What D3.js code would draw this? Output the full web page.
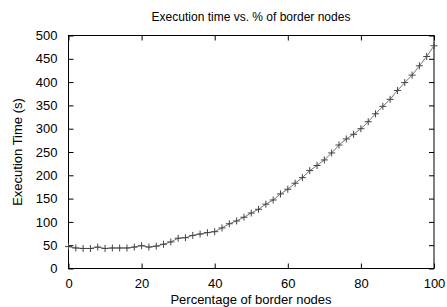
<!DOCTYPE html>
<html>
<head>
<meta charset="utf-8">
<script src="https://cdn.jsdelivr.net/npm/d3@7"></script>
<style>
  body { margin: 0; background: #fff; }
  text { font-family: "Liberation Sans", Arial, sans-serif; fill: #000; }
</style>
</head>
<body>
<svg id="chart" width="447" height="307"></svg>
<script>
// percentage of border nodes (every 2%)
const percents = d3.range(0, 101, 2);
// execution time in seconds
const execTimes = [47, 44, 43, 43, 46, 43, 44, 44, 44, 46,
  49, 46, 48, 52, 57, 65, 66, 71, 74, 77,
  79, 87, 96, 102, 110, 119, 127, 138, 147, 160,
  170, 183, 195, 210, 221, 233, 248, 265, 278, 288,
  300, 315, 332, 348, 363, 382, 399, 415, 435, 455, 478];
const xTicks = [0, 20, 40, 60, 80, 100];
const yTicks = [0, 50, 100, 150, 200, 250, 300, 350, 400, 450, 500];

const data = percents.map((p, i) => ({ p: p, t: execTimes[i] }));

const margin = { top: 35.5, right: 13, bottom: 38.5, left: 68.5 };
const width = 447 - margin.left - margin.right;
const height = 307 - margin.top - margin.bottom;

const svg = d3.select("#chart");
const g = svg.append("g")
  .attr("transform", "translate(" + margin.left + "," + margin.top + ")");

const x = d3.scaleLinear().domain([0, 100]).range([0, width]);
const y = d3.scaleLinear().domain([0, 500]).range([height, 0]);

// axes, gnuplot style: ticks inward, mirrored on top/right
g.append("g")
  .attr("class", "axis")
  .attr("transform", "translate(0," + height + ")")
  .call(d3.axisBottom(x).tickValues(xTicks).tickSize(-5).tickPadding(10));
g.append("g")
  .attr("class", "axis")
  .call(d3.axisTop(x).tickValues(xTicks).tickSize(-5).tickFormat(""));
g.append("g")
  .attr("class", "axis")
  .call(d3.axisLeft(y).tickValues(yTicks).tickSize(-5).tickPadding(11));
g.append("g")
  .attr("class", "axis")
  .attr("transform", "translate(" + width + ",0)")
  .call(d3.axisRight(y).tickValues(yTicks).tickSize(-5).tickFormat(""));

g.selectAll(".axis .domain").remove();
g.selectAll(".axis text")
  .style("font-size", "13px")
  .style("font-family", "'Liberation Sans', Arial, sans-serif")
  .attr("fill", "#000");
g.selectAll(".axis line").attr("stroke", "#000");

g.append("rect")
  .attr("width", width)
  .attr("height", height)
  .attr("fill", "none")
  .attr("stroke", "#000")
  .attr("stroke-width", 1);

// the line
const line = d3.line()
  .x(d => x(d.p))
  .y(d => y(d.t));

g.append("path")
  .datum(data)
  .attr("fill", "none")
  .attr("stroke", "#777")
  .attr("stroke-width", 1)
  .attr("d", line);

// "+" markers
const cross = d3.symbol().type(d3.symbolCross).size(0);
const r = 3.5;
g.selectAll("path.pt")
  .data(data)
  .enter()
  .append("path")
  .attr("class", "pt")
  .attr("transform", d => "translate(" + x(d.p) + "," + y(d.t) + ")")
  .attr("d", "M" + (-r) + ",0H" + r + "M0," + (-r) + "V" + r)
  .attr("stroke", "#444")
  .attr("stroke-width", 1)
  .attr("fill", "none");

// titles
svg.append("text")
  .attr("x", 251)
  .attr("y", 21)
  .attr("text-anchor", "middle")
  .style("font-size", "12px")
  .text("Execution time vs. % of border nodes");

svg.append("text")
  .attr("x", 251)
  .attr("y", 304)
  .attr("text-anchor", "middle")
  .style("font-size", "13px")
  .text("Percentage of border nodes");

svg.append("text")
  .attr("transform", "translate(22,152) rotate(-90)")
  .attr("text-anchor", "middle")
  .style("font-size", "13px")
  .text("Execution Time (s)");
</script>
</body>
</html>
